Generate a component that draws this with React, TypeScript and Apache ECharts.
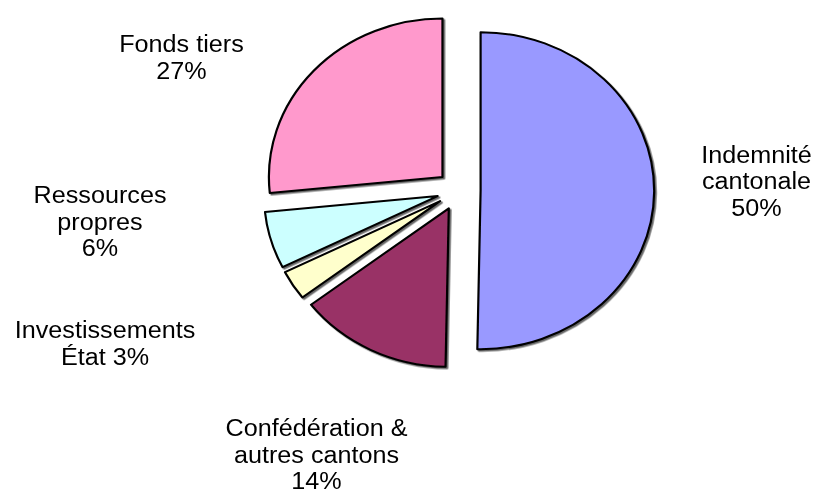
import React, { useEffect, useRef } from "react";
import * as echarts from "echarts";

// Data (share of total, %)
const categories = [
  "Indemnité cantonale",
  "Confédération & autres cantons",
  "Investissements État",
  "Ressources propres",
  "Fonds tiers",
];
const values = [50.3, 14.3, 3.0, 5.8, 26.6];
// Wrapped label text (as in the original) — percentage is appended
const labelNames = [
  "Indemnité\ncantonale\n",
  "Confédération &\nautres cantons\n",
  "Investissements\nÉtat ",
  "Ressources\npropres\n",
  "Fonds tiers\n",
];
const colors = ["#9999FF", "#993366", "#FFFFCC", "#CCFFFF", "#FF99CC"];

// Layout (the original picture is horizontally stretched)
const SX = 1.095;
const W = 816 / SX;
const H = 493;
const labelAnchors: [number, number][] = [
  [756.5 / SX, 181],
  [316.5 / SX, 454.5],
  [105 / SX, 343.5],
  [100 / SX, 221.5],
  [181.5 / SX, 57.5],
];

export default function App() {
  const ref = useRef<HTMLDivElement>(null);
  useEffect(() => {
    if (!ref.current) return;
    const chart = echarts.init(ref.current, null, { renderer: "svg" });
    const total = values.reduce((a, b) => a + b, 0);
    chart.setOption({
      animation: false,
      backgroundColor: "#ffffff",
      graphic: categories.map((_, i) => ({
        type: "text",
        x: labelAnchors[i][0],
        y: labelAnchors[i][1],
        silent: true,
        style: {
          text: labelNames[i] + Math.round((values[i] / total) * 100) + "%",
          fill: "#000000",
          fontFamily: "'Liberation Sans', Arial, sans-serif",
          fontSize: 23,
          lineHeight: 26.5,
          align: "center",
          verticalAlign: "middle",
        },
      })),
      series: [
        {
          type: "pie",
          center: [458.7 / SX, 190.5],
          radius: [0, 158.5],
          startAngle: 90,
          clockwise: true,
          avoidLabelOverlap: false,
          selectedMode: "multiple",
          selectedOffset: 20,
          emphasis: { disabled: true },
          itemStyle: {
            borderColor: "#000000",
            borderWidth: 2,
            shadowColor: "rgba(0,0,0,0.6)",
            shadowBlur: 1,
            shadowOffsetX: 1.5,
            shadowOffsetY: 1.5,
          },
          label: { show: false },
          labelLine: { show: false },
          data: categories.map((name, i) => ({
            name,
            value: values[i],
            selected: true,
            itemStyle: { color: colors[i] },
            select: { itemStyle: { color: colors[i], borderColor: "#000000", borderWidth: 2 } },
          })),
        },
      ],
    });
    return () => chart.dispose();
  }, []);
  return (
    <div
      ref={ref}
      style={{
        position: "fixed",
        left: 0,
        top: 0,
        width: W,
        height: H,
        transform: `scaleX(${SX})`,
        transformOrigin: "0 0",
      }}
    />
  );
}
